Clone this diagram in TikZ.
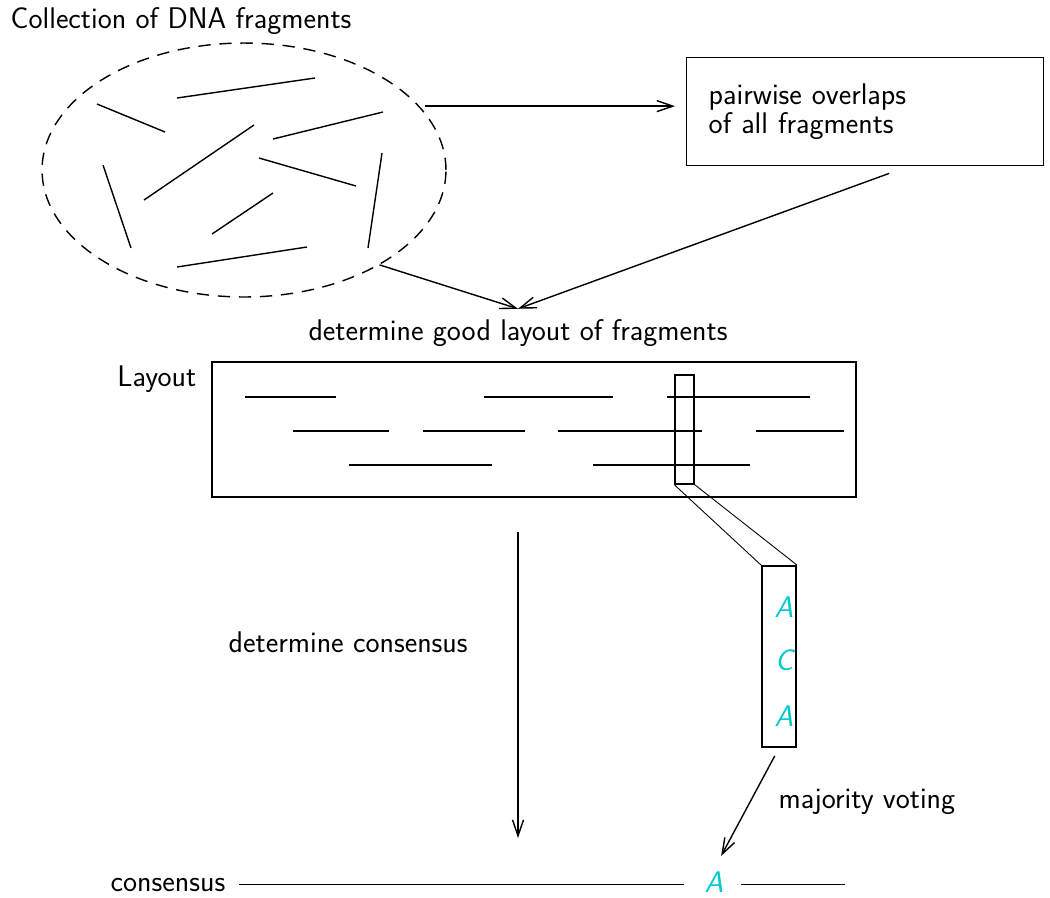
\documentclass[tikz,border=0pt]{standalone}
\usepackage{amsmath,amssymb}
\usepackage{fontspec}
\usetikzlibrary{shapes.geometric,arrows.meta,calc}

\definecolor{basecyan}{RGB}{0,200,205}
\tikzset{
	lbl/.style={font=\fontsize{17}{16}\selectfont\sffamily, inner sep=0pt},
	frag/.style={line width=0.8pt},
	laid/.style={line width=1.5pt},
	base/.style={font=\fontsize{17}{19}\selectfont\sffamily\itshape, text=basecyan, inner sep=1pt},
}

\begin{document}
\begin{tikzpicture}[x=0.02cm, y=-0.02cm, line width=0.8pt, >={Straight Barb[length=3.2mm,width=2.2mm]}]
	\useasboundingbox (0,0) rectangle (1050,897);
	\node [lbl, anchor=base west] (title) at (10,28) {Collection of DNA fragments};
	\node [ellipse, draw, dash pattern=on 7pt off 5pt, minimum width=8.08cm, minimum height=5.08cm] (pool) at (244,170) {};
	\foreach \xa/\ya/\xb/\yb in {177/98/315/78, 97/104/165/132, 383/112/273/139,
		254/125/144/200, 259/158/356/186, 103/165/131/248,
		382/153/368/248, 273/193/212/234, 177/267/307/247}
	\draw [frag] (\xa,\ya) -- (\xb,\yb);

	\node [lbl, draw, anchor=north west, inner xsep=0.44cm, text width=6.26cm, minimum height=2.16cm, align=left] (overlaps) at (686,57) {pairwise overlaps\\of all fragments};
	\node [lbl, inner sep=0.2cm] (step) at (518,333) {determine good layout of fragments};
	\draw [->, shorten <=0.12cm, shorten >=0.22cm] (pool.20) -- (overlaps.west |- pool.20);
	\draw [->] (pool.-35) -- (step.north);
	\draw [->] ($(overlaps.south)+(24,7)$) -- (step.north);

	% layout of the fragments
	\node [draw, line width=1.4pt, minimum width=12.88cm, minimum height=2.7cm] (layout) at (534,429.5) {};
	\node [lbl, anchor=north east] (layoutname) at ($(layout.north west)+(-14,4)$) {Layout};
	\foreach \xa/\xb/\y in {245/336/397, 484/613/397, 667/810/397,
		293/389/431, 423/525/431, 558/702/431, 756/844/431,
		349/492/465, 593/750/465}
	\draw [laid] (\xa,\y) -- (\xb,\y);
	\node [draw, minimum width=0.38cm, minimum height=2.18cm] (column) at (684.5,429.5) {};

	\node [draw, line width=1.1pt, minimum width=0.68cm, minimum height=3.62cm] (stack) at (779,656.5) {};
	\draw [line width=0.5pt] (column.south west) -- (stack.north west)
	(column.south east) -- (stack.north east);
	\foreach \l/\y [count=\i] in {A/607, C/660, A/716}
	\node [base] (read\i) at (784,\y) {\l};

	% consensus
	\coordinate (cstart) at (518,532);
	\coordinate (cend) at (518,838);
	\draw [->] (cstart) -- (cend);
	\node [lbl, anchor=base west] (constep) at (228,652) {determine consensus};

	\node [lbl, anchor=base west] (cons) at (110,891) {consensus};
	\node [base] (consA) at (714,882) {A};
	\coordinate (consend) at (845,884);
	\draw [line width=1pt, shorten <=0.26cm, shorten >=0.36cm] (cons.east) -- (cons.east -| consA.west);
	\draw [line width=1pt, shorten <=0.3cm] (cons.east -| consA.east) -- (cons.east -| consend);
	\draw [->, shorten <=0.18cm, shorten >=0.3cm] (stack.south) -- (consA.north);
	\node [lbl, anchor=base west] (vote) at (778,808) {majority voting};
\end{tikzpicture}
\end{document}
